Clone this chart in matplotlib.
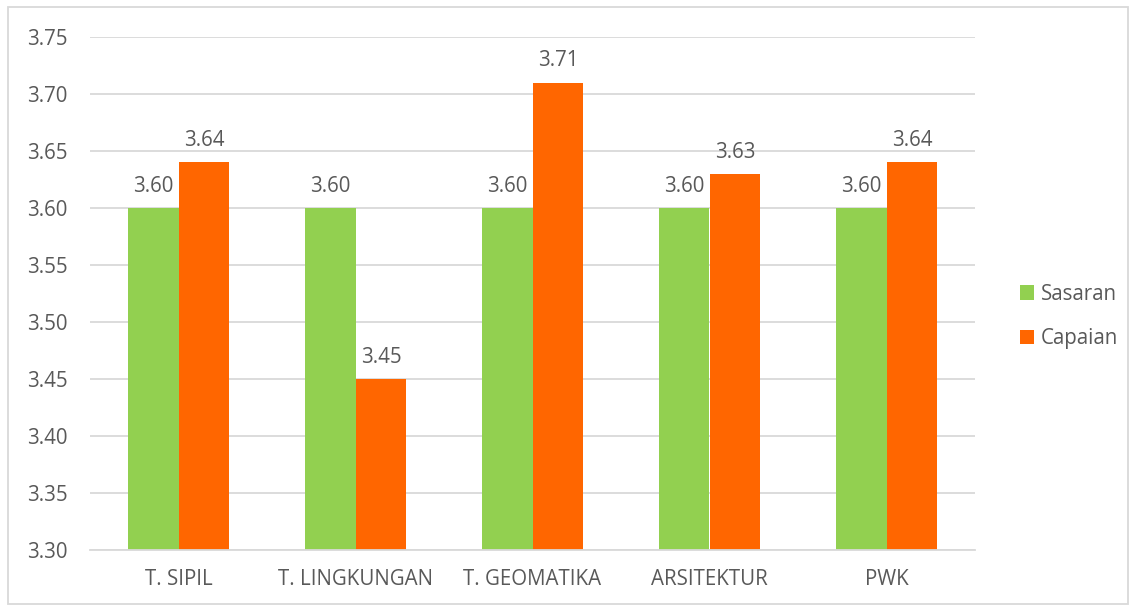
import numpy as np
import matplotlib.pyplot as plt
from matplotlib.patches import Rectangle

plt.rcParams['font.family'] = ['Open Sans', 'DejaVu Sans']

categories = ["T. SIPIL", "T. LINGKUNGAN", "T. GEOMATIKA", "ARSITEKTUR", "PWK"]
sasaran = [3.60, 3.60, 3.60, 3.60, 3.60]
capaian = [3.64, 3.45, 3.71, 3.63, 3.64]

green = "#92D050"
orange = "#FF6600"
txt = "#595959"
grid = "#D9D9D9"
fs = 14.8

fig = plt.figure(figsize=(11.35, 6.08), dpi=100)
ax = fig.add_axes([90 / 1135, 1 - 550 / 608, 885 / 1135, 513 / 608])

x = np.arange(len(categories))
w = 0.288
ax.bar(x - w / 2, [v - 3.30 for v in sasaran], w, bottom=3.30, color=green, label="Sasaran")
ax.bar(x + w / 2, [v - 3.30 for v in capaian], w, bottom=3.30, color=orange, label="Capaian")

for xs, vals in ((x - w / 2, sasaran), (x + w / 2, capaian)):
    for xi, v in zip(xs, vals):
        ax.annotate(f"{v:.2f}", (xi, v), xytext=(0, 8), textcoords="offset points",
                    ha="center", va="bottom", fontsize=fs, color=txt)

ax.set_ylim(3.30, 3.75)
ax.set_xlim(-0.5, len(categories) - 0.5)
ticks = np.arange(3.30, 3.751, 0.05)
ax.set_yticks(ticks)
ax.set_yticklabels([f"{t:.2f}" for t in ticks])
ax.set_xticks(x)
ax.set_xticklabels(categories)
ax.tick_params(length=0, labelsize=fs, labelcolor=txt)
ax.tick_params(axis="y", pad=16)
ax.tick_params(axis="x", pad=14)
ax.yaxis.grid(True, color=grid, linewidth=1.3)
ax.set_axisbelow(True)
for s in ("top", "right", "left"):
    ax.spines[s].set_visible(False)
ax.spines["bottom"].set_color(grid)
ax.spines["bottom"].set_linewidth(1.3)

leg = ax.legend(loc="center left", bbox_to_anchor=(1.03, 0.455), frameon=False,
                fontsize=fs, handlelength=0.7, handleheight=0.7, handletextpad=0.3,
                labelspacing=1.15)
for t in leg.get_texts():
    t.set_color(txt)

fig.patches.append(Rectangle((8 / 1135, 4 / 608), 1120 / 1135, 597 / 608,
                             transform=fig.transFigure, fill=False,
                             edgecolor=grid, linewidth=1.3))

fig.savefig("out.png", dpi=100)
